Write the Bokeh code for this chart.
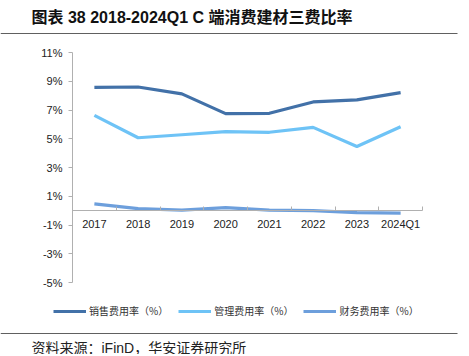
from bokeh.plotting import figure
from bokeh.models import (ColumnDataSource, FixedTicker, Legend, LegendItem, Label,
                          PolyAnnotation, Range1d)
from bokeh.embed import file_html
from bokeh.resources import INLINE

categories = ["2017", "2018", "2019", "2020", "2021", "2022", "2023", "2024Q1"]
sales_rate = [8.58, 8.60, 8.12, 6.75, 6.77, 7.56, 7.70, 8.21]
admin_rate = [6.63, 5.07, 5.28, 5.49, 5.45, 5.79, 4.46, 5.84]
fin_rate = [0.47, 0.14, 0.03, 0.21, 0.03, 0.00, -0.14, -0.18]
y_ticks = [-5, -3, -1, 1, 3, 5, 7, 9, 11]
series_names = ["销售费用率（%）", "管理费用率（%）", "财务费用率（%）"]
title_text = "图表 38 2018-2024Q1 C 端消费建材三费比率"
source_text = "资料来源：iFinD，华安证券研究所"

xs = [i + 0.5 for i in range(len(categories))]
src = ColumnDataSource(dict(x=xs, sales=sales_rate, admin=admin_rate, fin=fin_rate))

LATIN_CJK = "Liberation Sans, Noto Sans CJK SC"
CJK = "Noto Sans CJK SC"
colors = ["#4271a8", "#6ec3f6", "#6d9fdc"]
axis_color = "#b0b0b0"

# canvas and plotting-area geometry (pixels)
W, H = 461, 354
AL, AR, AT, AB = 72, 422, 52, 282
ncat = len(categories)
y_lo, y_hi = y_ticks[0], y_ticks[-1]
px_x = (AR - AL) / ncat
px_y = (AB - AT) / (y_hi - y_lo)
x_range = Range1d(-AL / px_x, ncat + (W - AR) / px_x)
y_range = Range1d(y_lo - (H - AB) / px_y, y_hi + AT / px_y)

p = figure(frame_width=W, frame_height=H, x_range=x_range, y_range=y_range,
           title=None, output_backend="svg", toolbar_location=None, min_border=0)
p.outline_line_color = None
p.xgrid.visible = False
p.ygrid.visible = False

r1 = p.line("x", "sales", source=src, line_color=colors[0], line_width=3.2)
r2 = p.line("x", "admin", source=src, line_color=colors[1], line_width=3.2)
r3 = p.line("x", "fin", source=src, line_color=colors[2], line_width=3.2)

p.yaxis.fixed_location = 0
p.yaxis.bounds = (y_lo, y_hi)
p.yaxis.ticker = FixedTicker(ticks=y_ticks)
p.yaxis.major_label_overrides = {t: f"{t}%" for t in y_ticks}
p.yaxis.axis_line_color = axis_color
p.yaxis.major_tick_line_color = axis_color
p.yaxis.major_tick_out = 4
p.yaxis.major_tick_in = 0
p.yaxis.minor_tick_line_color = None
p.yaxis.major_label_text_font = LATIN_CJK
p.yaxis.major_label_text_font_size = "11px"
p.yaxis.major_label_text_color = "#222222"
p.yaxis.major_label_standoff = 6

p.xaxis.fixed_location = 0
p.xaxis.bounds = (0, ncat)
p.xaxis.ticker = FixedTicker(ticks=xs, minor_ticks=list(range(ncat + 1)))
p.xaxis.major_label_overrides = {x: c for x, c in zip(xs, categories)}
p.xaxis.axis_line_color = axis_color
p.xaxis.major_tick_line_color = None
p.xaxis.major_tick_out = 0
p.xaxis.major_tick_in = 0
p.xaxis.minor_tick_line_color = axis_color
p.xaxis.minor_tick_in = 4
p.xaxis.minor_tick_out = 0
p.xaxis.major_label_text_font = LATIN_CJK
p.xaxis.major_label_text_font_size = "11px"
p.xaxis.major_label_text_color = "#222222"
p.xaxis.major_label_standoff = 7

legend = Legend(items=[LegendItem(label=series_names[0], renderers=[r1]),
                       LegendItem(label=series_names[1], renderers=[r2]),
                       LegendItem(label=series_names[2], renderers=[r3])],
                orientation="horizontal", location=(53, H - 318),
                glyph_width=33, glyph_height=12, label_standoff=3, spacing=10,
                padding=0, margin=0, border_line_color=None, background_fill_alpha=0,
                label_text_font=CJK, label_text_font_size="10px", label_text_color="#333333",
                label_height=12)
p.add_layout(legend, "center")

# title, rules and source note (screen coords from bottom-left of the canvas-sized frame)
p.add_layout(Label(x=31, y=H - 17, x_units="screen", y_units="screen", text=title_text,
                   text_font=LATIN_CJK, text_font_style="bold", text_font_size="16px",
                   text_baseline="middle", text_color="#111111"))
p.add_layout(Label(x=31, y=H - 347, x_units="screen", y_units="screen", text=source_text,
                   text_font=LATIN_CJK, text_font_size="14px",
                   text_baseline="middle", text_color="#222222"))
for ry in (33, 333):
    yy = H - ry
    p.add_layout(PolyAnnotation(xs=[0, 457, 457, 0], ys=[yy + 0.5, yy + 0.5, yy - 0.5, yy - 0.5],
                                xs_units="screen", ys_units="screen",
                                fill_color="#606060", fill_alpha=1, line_color=None))

out = file_html(p, INLINE)
open("out.html", "w").write(out)
